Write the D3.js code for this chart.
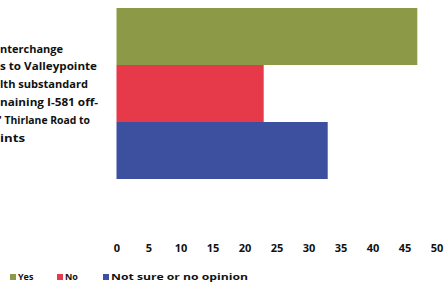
<!DOCTYPE html>
<html><head><meta charset="utf-8">
<script src="https://cdn.jsdelivr.net/npm/d3@7"></script>
<style>
html,body{margin:0;padding:0;background:#fff;}
svg{display:block;}
text{font-family:"Open Sans","DejaVu Sans",sans-serif;font-weight:bold;fill:#111;}
</style></head>
<body>
<svg id="c" width="444" height="288"></svg>
<script>
const series = ["Yes", "No", "Not sure or no opinion"];
const values = [47, 23, 33];
const colors = ["#8c9a47", "#e6394a", "#3d4f9f"];
const tickValues = [0, 5, 10, 15, 20, 25, 30, 35, 40, 45, 50];
const labelLines = ["nterchange", "s to Valleypointe", "lth substandard", "naining I-581 off-", "' Thirlane Road to", "ints"];

const svg = d3.select("#c");
const x = d3.scaleLinear().domain([0, 50]).range([116.5, 436.5]);
const y = d3.scaleBand().domain(series).range([8, 179]).padding(0);

svg.append("g").selectAll("rect").data(series).join("rect")
  .attr("x", x(0))
  .attr("y", d => y(d))
  .attr("width", (d, i) => x(values[i]) - x(0))
  .attr("height", y.bandwidth())
  .attr("fill", (d, i) => colors[i]);

// axis (labels only)
const axis = d3.axisBottom(x).tickValues(tickValues).tickSize(0).tickPadding(0);
const ag = svg.append("g").attr("transform", "translate(0,244)").call(axis);
ag.select(".domain").remove();
ag.selectAll("text").attr("font-size", 11).attr("font-weight", "800")
  .attr("font-family", "'Open Sans','DejaVu Sans',sans-serif").attr("fill", "#111");

// category label (cropped)
const lineEnds = [63, 97, 88, 98, 90, 25];
const lineStarts = [0, 0, 0, 0, -1, 0];
const yMid = (y.range()[0] + y.range()[1]) / 2;
const lh = 17.8;
svg.append("g").selectAll("text").data(labelLines).join("text")
  .attr("x", (d, i) => lineStarts[i])
  .attr("y", (d, i) => yMid + (i - (labelLines.length - 1) / 2) * lh)
  .attr("dy", "0.35em")
  .attr("font-size", 10)
  .attr("textLength", (d, i) => lineEnds[i] - lineStarts[i])
  .attr("lengthAdjust", "spacingAndGlyphs")
  .text(d => d);

// legend
const legX = [10, 57, 103];
const lg = svg.append("g").attr("transform", "translate(0,277)");
series.forEach((s, i) => {
  lg.append("rect").attr("x", legX[i]).attr("y", -3).attr("width", 6).attr("height", 6).attr("fill", colors[i]);
  const t = lg.append("text").attr("x", legX[i] + 8).attr("y", 0).attr("dy", "0.35em")
    .attr("font-size", 9)
    .text(s);
  if (i === 2) t.attr("textLength", 248 - legX[i] - 8).attr("lengthAdjust", "spacingAndGlyphs");
});
</script>
</body></html>
